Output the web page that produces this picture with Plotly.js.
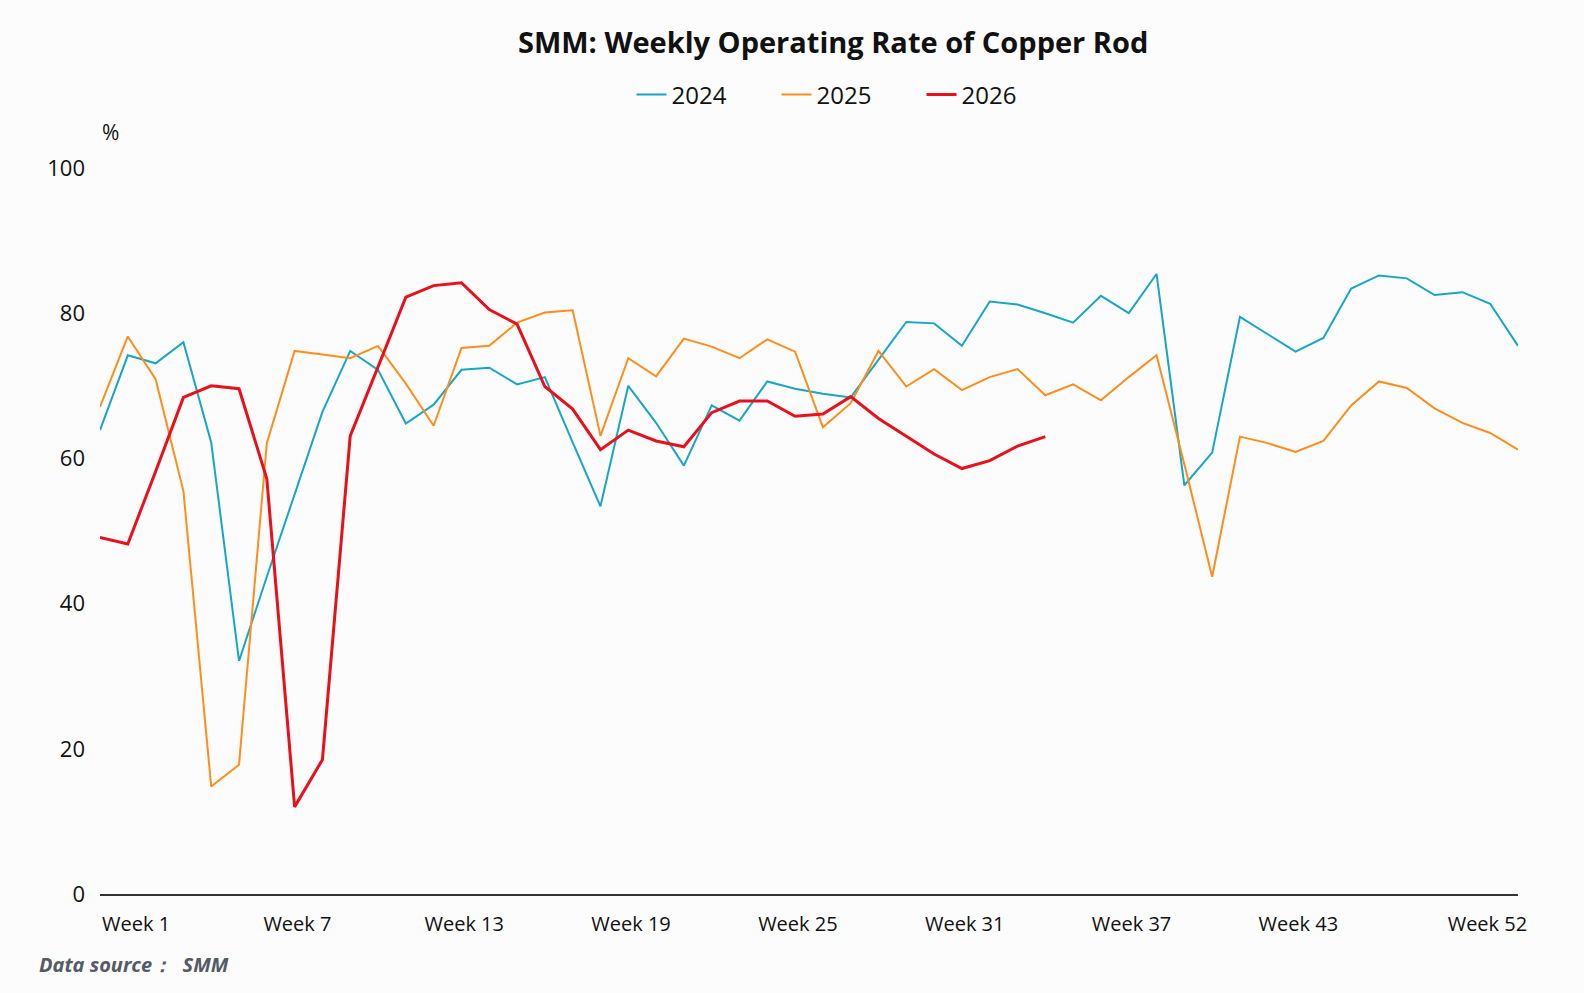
<!DOCTYPE html>
<html>
<head>
<meta charset="utf-8">
<script src="https://cdn.plot.ly/plotly-3.0.1.min.js"></script>
<style>
  html, body { margin: 0; padding: 0; background: #fcfcfc; }
  #chart { width: 1584px; height: 993px; }
</style>
</head>
<body>
<div id="chart"></div>
<script>
// weekly operating rate (%)
const weeks = Array.from({ length: 52 }, (_, i) => i + 1);

const rate2024 = [
  63.9, 74.2, 73.1, 76.0, 62.2, 32.1, 43.7, 55.2, 66.4, 74.8,
  72.2, 64.8, 67.4, 72.2, 72.5, 70.2, 71.2, 62.2, 53.4, 70.0,
  64.9, 59.0, 67.3, 65.2, 70.6, 69.6, 68.9, 68.4, 73.6, 78.8,
  78.6, 75.5, 81.6, 81.2, 80.0, 78.7, 82.4, 80.0, 85.4, 56.3,
  60.8, 79.5, 77.1, 74.7, 76.6, 83.4, 85.2, 84.8, 82.5, 82.9,
  81.3, 75.5,
];

const rate2025 = [
  67.1, 76.8, 70.9, 55.5, 14.8, 17.8, 62.1, 74.8, 74.3, 73.8,
  75.5, 70.3, 64.5, 75.2, 75.5, 78.7, 80.1, 80.4, 63.1, 73.8,
  71.3, 76.5, 75.4, 73.8, 76.4, 74.7, 64.3, 67.6, 74.8, 69.9,
  72.3, 69.4, 71.2, 72.3, 68.7, 70.2, 68.0, 71.2, 74.2, 59.2,
  43.7, 63.0, 62.1, 60.9, 62.4, 67.3, 70.6, 69.7, 66.9, 64.9,
  63.5, 61.2,
];

const rate2026 = [
  49.1, 48.2, 58.2, 68.4, 70.0, 69.6, 57.2, 12.0, 18.5, 63.1,
  72.6, 82.2, 83.8, 84.2, 80.5, 78.5, 69.9, 66.8, 61.2, 63.9,
  62.4, 61.6, 66.3, 67.9, 67.9, 65.8, 66.1, 68.5, 65.5, 63.1,
  60.6, 58.6, 59.7, 61.7, 63.0,
];

const tickWeeks = [1, 7, 13, 19, 25, 31, 37, 43, 52];
const yTicks = [0, 20, 40, 60, 80, 100];

const FONT = "'Open Sans', 'Noto Sans', sans-serif";

function series(name, values, color, width) {
  return {
    type: "scatter",
    mode: "lines",
    name,
    x: weeks.slice(0, values.length),
    y: values,
    line: { color, width },
    hoverinfo: "x+y+name",
  };
}

const data = [
  series("2024", rate2024, "#17a6c6", 2),
  series("2025", rate2025, "#ff8d1c", 2),
  series("2026", rate2026, "#e8101a", 3),
];

// the source draws each week label one step to the right of its point
const tickPos = tickWeeks.map((w, i) => {
  if (i === 0) return w + 1.3;
  if (i === tickWeeks.length - 1) return w - 1.1;
  return w + 1.1;
});

const layout = {
  width: 1584,
  height: 993,
  paper_bgcolor: "#fcfcfc",
  plot_bgcolor: "#fcfcfc",
  font: { family: FONT, color: "#111", size: 20 },
  margin: { l: 100, r: 66, t: 168, b: 99 },
  showlegend: true,
  title: {
    text: "<b>SMM: Weekly Operating Rate of Copper Rod</b>",
    font: { family: FONT, size: 29, color: "#111" },
    x: 0.517,
    xanchor: "center",
    xref: "paper",
    y: 1 - 43 / 993,
    yanchor: "middle",
    yref: "container",
  },
  legend: {
    orientation: "h",
    x: (849 - 100) / 1418,
    xanchor: "center",
    y: 1 - 95 / 993,
    yref: "container",
    yanchor: "middle",
    font: { family: FONT, size: 24, color: "#111" },
    itemwidth: 30,
    entrywidth: 100,
    bgcolor: "rgba(0,0,0,0)",
  },
  xaxis: {
    range: [1, 52],
    tickmode: "array",
    tickvals: tickPos,
    ticktext: tickWeeks.map((w) => "Week " + w),
    ticks: "",
    ticklabelstandoff: 11,
    showgrid: false,
    zeroline: false,
    showline: true,
    linecolor: "#333",
    linewidth: 2,
    tickfont: { family: FONT, size: 20, color: "#111" },
    fixedrange: true,
  },
  yaxis: {
    range: [0, 100],
    tickmode: "array",
    tickvals: yTicks,
    ticks: "",
    ticklabelstandoff: 14,
    showgrid: false,
    zeroline: false,
    showline: false,
    tickfont: { family: FONT, size: 22, color: "#111" },
    fixedrange: true,
  },
  annotations: [
    {
      text: "%",
      xref: "paper",
      yref: "paper",
      x: 10 / 1418,
      y: 1 + 36 / 726,
      xanchor: "center",
      yanchor: "middle",
      showarrow: false,
      font: { family: FONT, size: 21, color: "#111" },
    },
    {
      text: "<b><i>Data source：  SMM</i></b>",
      xref: "paper",
      yref: "paper",
      x: -63 / 1418,
      y: -70 / 726,
      xanchor: "left",
      yanchor: "middle",
      showarrow: false,
      font: { family: FONT, size: 20, color: "#555a66" },
    },
  ],
};

Plotly.newPlot("chart", data, layout, { displayModeBar: false, staticPlot: false });
</script>
</body>
</html>
